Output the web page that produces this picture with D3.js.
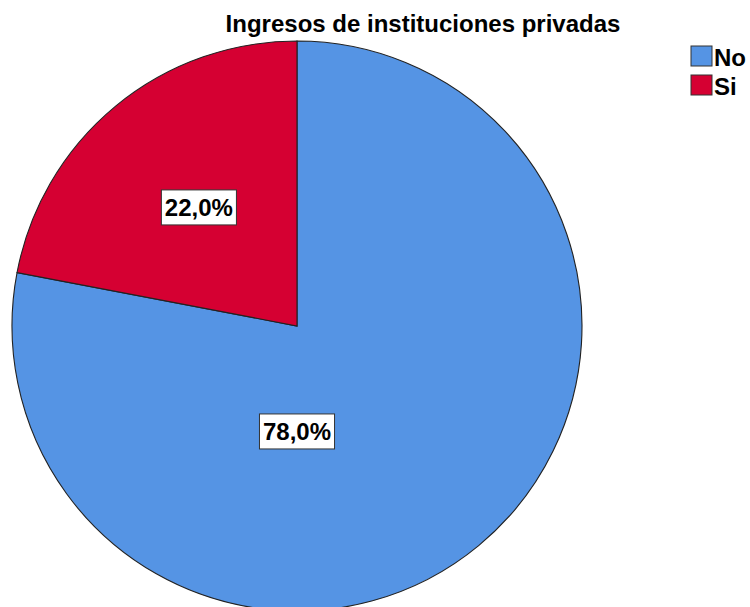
<!DOCTYPE html>
<html><head><meta charset="utf-8">
<script src="https://cdn.jsdelivr.net/npm/d3@7"></script>
<style>html,body{margin:0;padding:0;background:#fff;}svg{display:block;font-family:"Liberation Sans",Arial,sans-serif;}</style>
</head><body>
<svg id="c" width="750" height="607"></svg>
<script>
const categories = ["No", "Si"];
const values = [78.0, 22.0];
const labels = ["78,0%", "22,0%"];
const colors = ["#5594E4", "#D50032"];
const title = "Ingresos de instituciones privadas";

const svg = d3.select("#c");
const cx = 297, cy = 326, R = 285;

svg.append("text").attr("x", 423).attr("y", 32).attr("text-anchor", "middle")
  .attr("font-size", 24).attr("font-weight", "bold").attr("fill", "#000").text(title);

const pie = d3.pie().sort(null).value(d => d)(values);
const arc = d3.arc().innerRadius(0).outerRadius(R);
const g = svg.append("g").attr("transform", `translate(${cx},${cy})`);
g.selectAll("path").data(pie).join("path")
  .attr("d", arc).attr("fill", (d, i) => colors[i])
  .attr("stroke", "#222").attr("stroke-width", 1.1);

// label placement: angle/radius fractions (SPSS-like)
const labelPos = [
  {angle: Math.PI, r: 0.37},
  {angle: null, r: 0.54}
];
pie.forEach((d, i) => {
  const a = labelPos[i].angle !== null ? labelPos[i].angle : (d.startAngle + d.endAngle) / 2;
  const x = Math.sin(a) * R * labelPos[i].r;
  const y = -Math.cos(a) * R * labelPos[i].r;
  const lg = g.append("g").attr("transform", `translate(${x},${y})`);
  const t = lg.append("text").attr("text-anchor", "middle").attr("dy", "0.36em")
    .attr("font-size", 24).attr("font-weight", "bold").attr("fill", "#000").text(labels[i]);
  const bb = t.node().getBBox();
  lg.insert("rect", "text").attr("x", bb.x - 3.5).attr("y", -17.5).attr("width", bb.width + 7).attr("height", 35)
    .attr("fill", "#fff").attr("stroke", "#333").attr("stroke-width", 1);
});

const lg = svg.append("g").attr("transform", "translate(691,46)");
categories.forEach((c, i) => {
  const row = lg.append("g").attr("transform", `translate(0,${i * 29})`);
  row.append("rect").attr("width", 21).attr("height", 20).attr("fill", colors[i]).attr("stroke", "#333").attr("stroke-width", 1);
  row.append("text").attr("x", 23).attr("y", 20).attr("font-size", 24).attr("font-weight", "bold").text(c);
});
</script>
</body></html>
